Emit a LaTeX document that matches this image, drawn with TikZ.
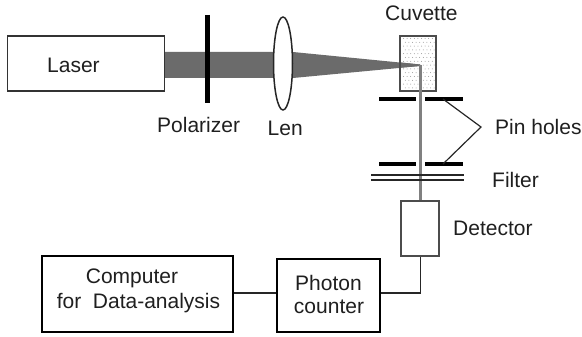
\documentclass[tikz,border=0pt]{standalone}
\usepackage{fontspec}
\usetikzlibrary{shapes.geometric}
\setmainfont{Liberation Sans}
\begin{document}
\begin{tikzpicture}[x=1pt,y=-1pt,
  lbl/.style={inner sep=0pt,font=\fontsize{21}{25}\selectfont,text=black!88},
  boxk/.style={draw=black,line width=1.7pt,fill=white,inner sep=0pt,rectangle},
  boxg/.style={draw=black!70,line width=1.3pt,inner sep=0pt,rectangle},
  plate/.style={line width=3.2pt,black},
  thinplate/.style={line width=1.6pt,black!85},
  ray/.style={line width=2.6pt,black!50},
  wire/.style={line width=1.9pt,black!85},
  pointer/.style={line width=1.2pt,black!85}]
\useasboundingbox (0,0) rectangle (582,337);
% beam
\fill[black!58] (164,52) -- (293,52) -- (420,64.5) -- (420,66) -- (293,78) -- (164,78) -- cycle;
% nodes
\node[boxg,draw=black!80,minimum width=156.5pt,minimum height=55pt] (laser) at (86,63.5) {};
\node[boxg,minimum width=35pt,minimum height=55pt] (cuvette) at (418,63.5) {};
\foreach \i in {0,...,8}{\foreach \j in {0,...,13}{
  \fill[black!40] ({403.5+\i*3.6+mod(\j,2)*1.8},{38.5+\j*3.8}) circle (0.5pt);}}
\fill[black!58] (401,62.5) -- (420,64.5) -- (420,66) -- (401,67.5) -- cycle;
\draw[boxg,fill=none] (cuvette.north west) rectangle (cuvette.south east);
\node[boxg,fill=white,minimum width=38pt,minimum height=55pt] (detector) at (420,228.5) {};
\coordinate (focus) at (420.5,65);
\draw[ray] (focus) -- (focus |- detector.north);
% polarizer
\draw[line width=5pt,black] (207.5,15) -- (207.5,103);
% lens
\node[draw=black!85,line width=1.5pt,fill=white,ellipse,inner sep=0pt,minimum width=19pt,minimum height=93pt] (lens) at (283,63.5) {};
% pin holes, filter
\draw[plate] (379,99) -- (416,99) (425,99) -- (463,99);
\draw[plate] (379,164) -- (416,164) (425,164) -- (463,164);
\draw[thinplate] (371,175) -- (464,175) (371,180) -- (464,180);
\draw[pointer] (443,99) -- (481,127) -- (443,164);
% boxes
\node[boxk,minimum width=191pt,minimum height=76pt] (computer) at (137.5,294) {};
\node[boxk,minimum width=103pt,minimum height=73pt] (counter) at (328.5,295.5) {};
\draw[wire] (computer.east |- 0,293) -- (counter.west |- 0,293);
\draw[wire] (counter.east |- 0,293) -- (420.5,293) -- (detector.south -| 420.5,0);
% text
\node[lbl,anchor=west] at (47,65) {Laser};
\node[lbl,anchor=west] at (157,125) {Polarizer};
\node[lbl,anchor=west] at (267.5,128) {Len};
\node[lbl,anchor=west] at (385,13) {Cuvette};
\node[lbl,anchor=west] at (495,127) {Pin holes};
\node[lbl,anchor=west] at (492,180) {Filter};
\node[lbl,anchor=west] at (453,228) {Detector};
\node[lbl] at (132,278) {Computer};
\node[lbl] at (138.5,303) {for\ \ Data-analysis};
\node[lbl] at (328.5,283) {Photon};
\node[lbl] at (329,307) {counter};
\end{tikzpicture}
\end{document}
